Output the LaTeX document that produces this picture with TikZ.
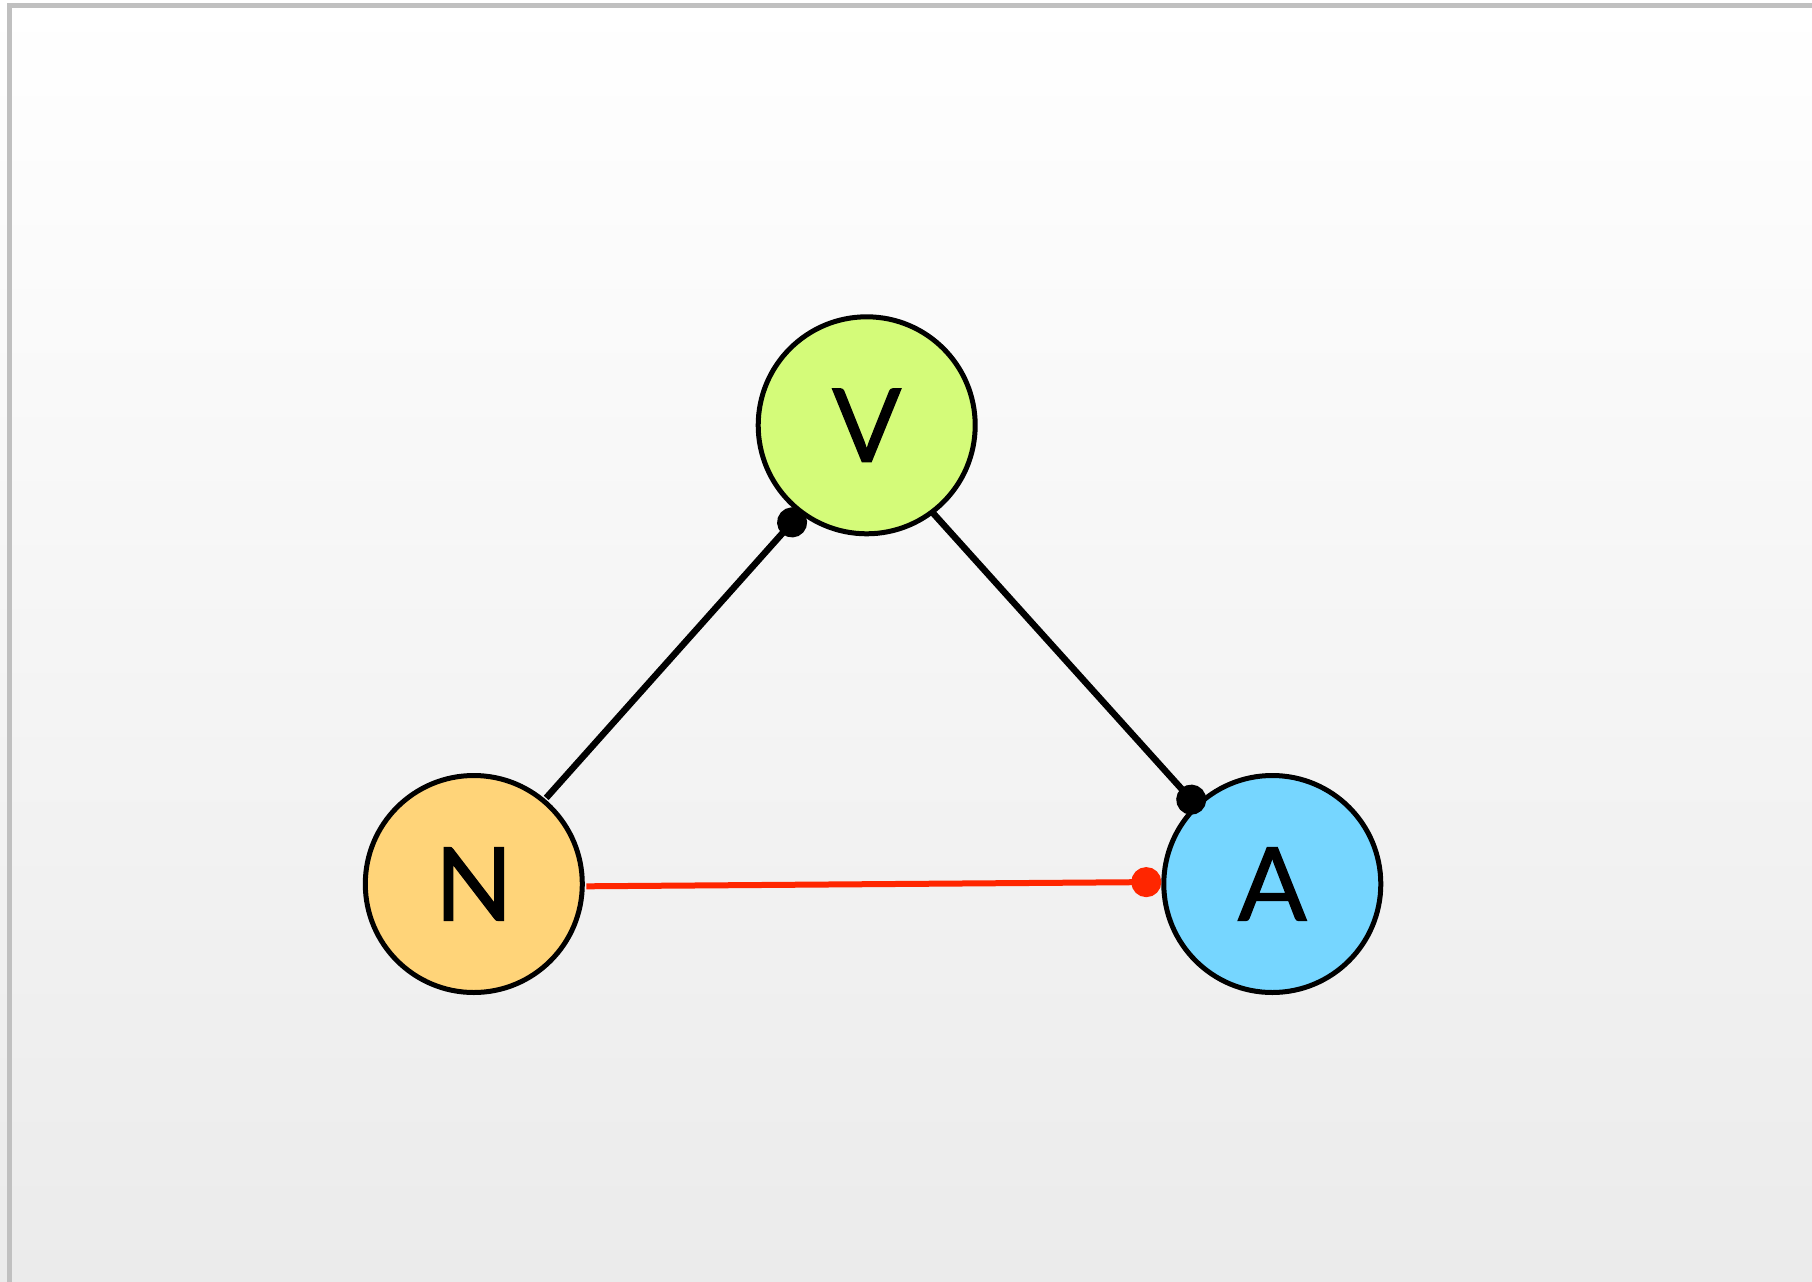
\documentclass[tikz,border=0pt]{standalone}
\usepackage{fontspec}
\setmainfont{Lato}
\newfontfamily\letterfont{Lato}[FakeBold=1.2]
\usetikzlibrary{arrows.meta}
\definecolor{bgbottom}{HTML}{EBEBEB}
\definecolor{framegray}{HTML}{C0C0C0}
\definecolor{vgreen}{HTML}{D4FB79}
\definecolor{norange}{HTML}{FFD479}
\definecolor{ablue}{HTML}{76D6FF}
\definecolor{linkred}{HTML}{FF2600}
\tikzset{
  vertex/.style={circle, draw=black, line width=5pt, minimum size=217pt, inner sep=0pt, outer sep=0pt,
    font=\letterfont\fontsize{102}{102}\selectfont},
  link/.style={line width=6.5pt, -{Circle[length=30pt,width=30pt]}},
  redlink/.style={line width=6pt, draw=linkred, -{Circle[length=30pt,width=30pt]}}
}
\begin{document}
\begin{tikzpicture}[x=1pt,y=-1pt]
\useasboundingbox (0,0) rectangle (1812,1282);
\shade[top color=white, bottom color=bgbottom] (0,0) rectangle (1812,1282);
\draw[framegray, line width=5pt] (9.3,1282) -- (9.3,5.3) -- (1812,5.3);

\node[vertex, fill=vgreen] (V) at (866.7,425.3) {V};
\node[vertex, fill=norange] (N) at (473.8,884) {N};
\node[vertex, fill=ablue] (A) at (1272.3,884) {A};

\draw[link, shorten <=4pt, shorten >=-1pt] (N.50) -- (V.233);
\draw[link, shorten >=-6.5pt] (V.307.6) -- (A.134.7);
\draw[redlink] ([xshift=4pt, yshift=-2.3pt]N.east) -- ([xshift=-2.5pt, yshift=2pt]A.west);
\end{tikzpicture}
\end{document}
